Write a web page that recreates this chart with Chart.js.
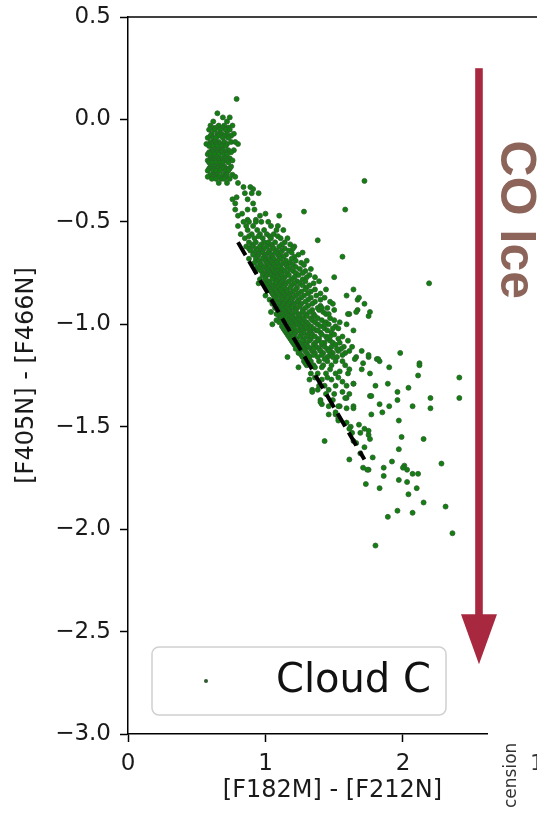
<!DOCTYPE html>
<html>
<head>
<meta charset="utf-8">
<script src="https://cdn.jsdelivr.net/npm/chart.js@4/dist/chart.umd.min.js"></script>
<style>
  html, body { margin: 0; padding: 0; background: #fff; }
  #wrap { width: 537px; height: 813px; }
</style>
</head>
<body>
<div id="wrap"><canvas id="cmd" width="537" height="813"></canvas></div>
<script>
// axis ticks
const xTicks = [0, 1, 2];
const yTicks = [-3.0, -2.5, -2.0, -1.5, -1.0, -0.5, 0.0, 0.5];

// reddening line (dashed)
const fitX = [0.80, 1.72];
const fitY = [-0.60, -1.66];

// Cloud C stars: [y, [x, x, ...]] rows
const clumpRows = [
  [0.10, [0.79]],
  [0.03, [0.65]],
  [0.01, [0.69, 0.74]],
  [-0.01, [0.62, 0.72]],
  [-0.03, [0.60, 0.66, 0.70, 0.76]],
  [-0.04, [0.61, 0.64, 0.69, 0.73]],
  [-0.05, [0.59, 0.63, 0.67, 0.71, 0.74]],
  [-0.07, [0.61, 0.65, 0.68, 0.72, 0.77]],
  [-0.08, [0.60, 0.66, 0.70, 0.75]],
  [-0.09, [0.58, 0.62, 0.64, 0.69, 0.73]],
  [-0.11, [0.60, 0.63, 0.66, 0.70, 0.75, 0.78]],
  [-0.12, [0.57, 0.61, 0.64, 0.67, 0.72, 0.80]],
  [-0.13, [0.59, 0.62, 0.65, 0.68, 0.71]],
  [-0.15, [0.61, 0.64, 0.67, 0.69, 0.73, 0.77]],
  [-0.16, [0.59, 0.62, 0.65, 0.68, 0.71, 0.75]],
  [-0.17, [0.58, 0.60, 0.63, 0.66, 0.70, 0.72]],
  [-0.19, [0.60, 0.62, 0.65, 0.68, 0.71, 0.74]],
  [-0.20, [0.58, 0.61, 0.63, 0.66, 0.69, 0.72, 0.76]],
  [-0.21, [0.59, 0.61, 0.64, 0.67, 0.69, 0.73]],
  [-0.23, [0.60, 0.63, 0.66, 0.68, 0.70, 0.75]],
  [-0.24, [0.59, 0.62, 0.65, 0.69, 0.72, 0.74]],
  [-0.25, [0.58, 0.62, 0.64, 0.67, 0.71, 0.73]],
  [-0.27, [0.60, 0.63, 0.65, 0.69, 0.72, 0.76]],
  [-0.28, [0.58, 0.62, 0.66, 0.71, 0.78]],
  [-0.29, [0.61, 0.64, 0.68, 0.70, 0.74]],
  [-0.31, [0.66, 0.72, 0.80]]
];

const transitionRows = [
  [-0.33, [0.84, 0.89]],
  [-0.34, [0.91]],
  [-0.36, [0.85, 0.90, 0.95]],
  [-0.38, [0.79]],
  [-0.39, [0.76, 0.87]],
  [-0.41, [0.78, 0.91]],
  [-0.44, [0.78, 0.87, 0.92]],
  [-0.46, [0.83, 1.00]],
  [-0.47, [0.80, 0.96, 1.10]],
  [-0.49, [0.87, 0.93]]
];

const bandRows = [
  [-0.50, [0.84, 0.88, 0.93, 0.97, 1.02]],
  [-0.52, [0.80, 0.86, 0.91, 1.04, 1.09]],
  [-0.54, [0.87, 0.94, 0.99, 1.08, 1.13]],
  [-0.56, [0.82, 0.90, 0.96, 1.01, 1.06]],
  [-0.57, [0.88, 0.95, 1.03, 1.09]],
  [-0.58, [0.85, 0.92, 0.98, 1.04, 1.11, 1.16]],
  [-0.60, [0.88, 0.93, 0.99, 1.02, 1.07, 1.14]],
  [-0.61, [0.91, 0.97, 1.04, 1.12, 1.18]],
  [-0.62, [0.86, 0.90, 0.96, 1.01, 1.05, 1.10, 1.21]],
  [-0.63, [0.88, 0.93, 0.99, 1.06, 1.14, 1.20]],
  [-0.64, [0.89, 0.94, 0.97, 1.03, 1.08, 1.12, 1.17]],
  [-0.65, [0.92, 0.98, 1.02, 1.07, 1.11, 1.19, 1.27]],
  [-0.66, [0.91, 0.95, 1.00, 1.04, 1.09, 1.15, 1.24]],
  [-0.67, [0.94, 0.99, 1.05, 1.10, 1.13, 1.21]],
  [-0.68, [0.88, 0.93, 0.98, 1.02, 1.06, 1.11, 1.19]],
  [-0.69, [0.95, 1.00, 1.04, 1.09, 1.15, 1.22, 1.30]],
  [-0.70, [0.92, 0.96, 1.01, 1.05, 1.08, 1.13, 1.18, 1.26]],
  [-0.71, [0.97, 1.02, 1.06, 1.11, 1.15, 1.20, 1.28]],
  [-0.72, [0.94, 0.99, 1.03, 1.07, 1.10, 1.16, 1.22]],
  [-0.73, [0.96, 1.01, 1.05, 1.12, 1.18, 1.25, 1.33]],
  [-0.74, [0.93, 0.97, 1.02, 1.06, 1.09, 1.14, 1.20, 1.29]],
  [-0.75, [0.99, 1.03, 1.07, 1.11, 1.16, 1.22, 1.27]],
  [-0.76, [0.98, 1.01, 1.04, 1.08, 1.12, 1.17, 1.24, 1.32]],
  [-0.77, [1.00, 1.06, 1.09, 1.14, 1.21, 1.30, 1.36]],
  [-0.78, [0.96, 1.00, 1.05, 1.10, 1.13, 1.19, 1.27]],
  [-0.79, [1.02, 1.08, 1.12, 1.17, 1.23, 1.29, 1.39]],
  [-0.80, [0.95, 0.99, 1.03, 1.07, 1.11, 1.15, 1.21, 1.25, 1.35]],
  [-0.81, [1.01, 1.05, 1.10, 1.14, 1.19, 1.27, 1.32]],
  [-0.82, [1.02, 1.06, 1.09, 1.13, 1.18, 1.23, 1.30]],
  [-0.83, [1.03, 1.07, 1.11, 1.15, 1.22, 1.29, 1.36, 1.44]],
  [-0.84, [1.04, 1.08, 1.12, 1.16, 1.20, 1.26, 1.33]],
  [-0.85, [1.05, 1.09, 1.13, 1.18, 1.24, 1.31, 1.40]],
  [-0.86, [1.00, 1.06, 1.10, 1.14, 1.17, 1.22, 1.28, 1.37]],
  [-0.87, [1.07, 1.12, 1.16, 1.20, 1.26, 1.33, 1.43]],
  [-0.88, [1.03, 1.08, 1.12, 1.15, 1.19, 1.24, 1.31, 1.40]],
  [-0.89, [1.06, 1.10, 1.14, 1.18, 1.23, 1.29, 1.36, 1.47]],
  [-0.90, [1.05, 1.10, 1.13, 1.17, 1.21, 1.26, 1.34]],
  [-0.91, [1.08, 1.12, 1.16, 1.20, 1.25, 1.31, 1.40]],
  [-0.92, [1.07, 1.11, 1.15, 1.19, 1.23, 1.29, 1.38, 1.45]],
  [-0.93, [1.10, 1.13, 1.17, 1.22, 1.27, 1.34, 1.39, 1.50]],
  [-0.94, [1.04, 1.09, 1.14, 1.18, 1.22, 1.27, 1.32, 1.42]],
  [-0.95, [1.08, 1.12, 1.15, 1.19, 1.24, 1.29, 1.35, 1.44]],
  [-0.96, [1.10, 1.13, 1.16, 1.20, 1.25, 1.30, 1.36]],
  [-0.97, [1.11, 1.15, 1.19, 1.23, 1.27, 1.33, 1.38, 1.47]],
  [-0.98, [1.08, 1.12, 1.17, 1.21, 1.24, 1.28, 1.34, 1.41, 1.50]],
  [-0.99, [1.10, 1.14, 1.18, 1.22, 1.26, 1.30, 1.36, 1.44]],
  [-1.00, [1.05, 1.14, 1.19, 1.23, 1.27, 1.31, 1.38, 1.46]],
  [-1.01, [1.12, 1.17, 1.20, 1.25, 1.29, 1.33, 1.40, 1.51]],
  [-1.02, [1.13, 1.16, 1.21, 1.26, 1.30, 1.35, 1.43, 1.53]],
  [-1.03, [1.14, 1.19, 1.24, 1.27, 1.32, 1.37, 1.45]],
  [-1.04, [1.15, 1.18, 1.22, 1.28, 1.33, 1.40, 1.48]],
  [-1.05, [1.16, 1.21, 1.26, 1.31, 1.34, 1.41, 1.50]],
  [-1.06, [1.17, 1.20, 1.25, 1.30, 1.36, 1.44, 1.56]],
  [-1.07, [1.18, 1.22, 1.28, 1.33, 1.39, 1.45, 1.53]],
  [-1.08, [1.19, 1.23, 1.27, 1.32, 1.38, 1.47, 1.60]],
  [-1.09, [1.20, 1.24, 1.30, 1.36, 1.43, 1.49]],
  [-1.10, [1.21, 1.26, 1.29, 1.35, 1.41, 1.51]],
  [-1.11, [1.23, 1.27, 1.31, 1.37, 1.43, 1.48, 1.57]],
  [-1.12, [1.22, 1.28, 1.33, 1.39, 1.45, 1.55]],
  [-1.13, [1.25, 1.29, 1.34, 1.40, 1.47, 1.53]],
  [-1.14, [1.24, 1.30, 1.36, 1.42, 1.49, 1.58]],
  [-1.15, [1.26, 1.31, 1.35, 1.41, 1.47, 1.56]],
  [-1.16, [1.27, 1.32, 1.45, 1.52]],
  [-1.18, [1.28, 1.33, 1.39, 1.45, 1.51]],
  [-1.20, [1.30, 1.35, 1.42, 1.48, 1.58]],
  [-1.24, [1.33, 1.38, 1.44, 1.51, 1.60]],
  [-1.26, [1.36, 1.45, 1.53]],
  [-1.30, [1.39, 1.43, 1.51, 1.59]],
  [-1.34, [1.44, 1.50]],
  [-1.44, [1.46, 1.51]],
  [-1.46, [1.53]],
  [-1.48, [1.59]],
  [-1.50, [1.62]],
  [-1.53, [1.63]],
  [-1.58, [1.66]],
  [-1.60, [1.72]],
  [-1.63, [1.69]]
];

// lower part of the band, [x, y]
const bandLowerPoints = [
  [1.67, -0.88], [1.61, -0.95], [1.67, -0.93], [1.41, -0.92], [1.49, -0.90], [1.46, -0.95],
  [1.54, -0.99], [1.59, -1.00], [1.49, -1.02], [1.43, -1.00], [1.38, -1.03], [1.47, -1.06],
  [1.54, -1.09], [1.52, -1.12], [1.61, -1.13], [1.46, -1.13], [1.41, -1.09], [1.35, -1.12],
  [1.38, -1.16], [1.43, -1.17], [1.49, -1.16], [1.56, -1.18], [1.70, -1.22], [1.61, -1.22],
  [1.54, -1.23], [1.47, -1.22], [1.41, -1.21], [1.36, -1.21], [1.29, -1.19], [1.24, -1.21],
  [1.32, -1.27], [1.41, -1.27], [1.48, -1.27], [1.56, -1.28], [1.64, -1.29], [1.38, -1.32],
  [1.46, -1.32], [1.56, -1.33], [1.61, -1.34], [1.34, -1.32], [1.40, -1.37], [1.49, -1.37],
  [1.59, -1.36], [1.64, -1.40], [1.54, -1.40], [1.46, -1.40], [1.41, -1.39]
];

// scattered stars right of the band, [x, y]
const tailPoints = [
  [1.72, -0.30], [1.28, -0.45], [1.58, -0.44], [1.38, -0.59], [1.56, -0.67], [1.50, -0.77],
  [2.19, -0.80], [1.64, -0.83], [1.59, -0.86], [1.68, -0.87], [1.72, -0.90], [1.76, -0.94],
  [1.75, -0.96], [1.66, -0.94], [1.60, -0.95], [1.64, -1.03], [1.98, -1.14], [2.12, -1.19],
  [1.70, -1.13], [1.66, -1.16], [1.75, -1.16], [1.81, -1.17], [1.83, -1.18], [1.90, -1.21],
  [1.71, -1.19], [1.63, -1.11], [2.11, -1.25], [2.41, -1.26], [2.41, -1.36], [2.20, -1.36],
  [2.20, -1.41], [2.07, -1.40], [1.97, -1.47], [1.99, -1.55], [2.15, -1.56], [1.97, -1.61],
  [1.92, -1.67], [1.86, -1.70], [1.86, -1.74], [2.01, -1.69], [2.03, -1.71], [2.07, -1.73],
  [2.11, -1.73], [2.28, -1.68], [1.97, -1.76], [2.03, -1.77], [2.10, -1.80], [2.04, -1.83],
  [2.15, -1.87], [2.31, -1.89], [2.07, -1.92], [1.96, -1.91], [1.89, -1.94], [2.36, -2.02],
  [1.80, -2.08], [1.83, -1.80], [1.73, -1.78], [1.75, -1.71], [1.61, -1.66], [1.43, -1.57],
  [1.78, -1.65], [1.85, -1.43], [1.77, -1.44], [1.76, -1.35], [1.83, -1.39], [1.90, -1.40],
  [1.96, -1.37], [1.96, -1.33], [1.89, -1.29], [1.80, -1.30], [1.76, -1.24], [1.65, -1.17],
  [1.75, -1.15], [1.64, -1.29], [1.58, -1.36], [1.64, -1.41], [1.69, -1.53], [1.75, -1.54],
  [1.76, -1.56], [1.74, -1.71], [1.71, -1.70], [1.16, -1.16], [1.61, -1.51], [1.64, -1.57],
  [1.53, -1.47], [1.51, -1.43], [1.34, -1.33], [1.40, -1.38], [1.53, -1.40], [1.59, -1.41],
  [1.68, -1.49], [1.72, -1.51], [2.04, -1.31], [1.77, -1.35], [1.75, -1.52], [2.00, -1.70],
  [2.12, -1.20], [1.82, -1.17]
];

const legendLabel = 'Cloud C';

const cloudPoints = [];
for (const [y, xs] of [...clumpRows, ...transitionRows, ...bandRows]) {
  for (const x of xs) cloudPoints.push({ x, y });
}
for (const [x, y] of [...bandLowerPoints, ...tailPoints]) cloudPoints.push({ x, y });

const fitLine = fitX.map((x, i) => ({ x, y: fitY[i] }));

const fmt = v => (v < 0 ? '\u2212' : '') + Math.abs(v).toFixed(1);

// extras: top spine, legend box, the CO ice arrow and the clipped neighbour panel
const extras = {
  id: 'extras',
  afterDraw(chart) {
    const { ctx, chartArea: a, scales: { x, y } } = chart;
    ctx.save();

    // top spine
    ctx.strokeStyle = '#000';
    ctx.lineWidth = 1.5;
    ctx.beginPath();
    ctx.moveTo(a.left - 0.75, a.top);
    ctx.lineTo(chart.width, a.top);
    ctx.stroke();

    // neighbour panel covers the end of the x axis
    ctx.fillStyle = '#fff';
    ctx.fillRect(488, 726, 49, 87);
    ctx.fillStyle = '#333';
    ctx.font = '17px "DejaVu Sans"';
    ctx.save();
    ctx.translate(516, 808);
    ctx.rotate(-Math.PI / 2);
    ctx.textAlign = 'left';
    ctx.textBaseline = 'alphabetic';
    ctx.fillText('cension', 0, 0);
    ctx.restore();
    ctx.font = '22px "DejaVu Sans"';
    ctx.textAlign = 'left';
    ctx.fillText('1', 530, 770);

    // legend
    ctx.beginPath();
    ctx.roundRect(152, 647, 294, 68, 7);
    ctx.fillStyle = 'rgba(255,255,255,0.8)';
    ctx.fill();
    ctx.strokeStyle = '#d0d0d0';
    ctx.lineWidth = 1.5;
    ctx.stroke();
    ctx.beginPath();
    ctx.arc(206, 681, 2, 0, Math.PI * 2);
    ctx.fillStyle = '#2f5a2f';
    ctx.fill();
    ctx.fillStyle = '#111';
    ctx.font = '40px "DejaVu Sans"';
    ctx.textAlign = 'left';
    ctx.textBaseline = 'alphabetic';
    ctx.fillText(legendLabel, 276, 692);

    // arrow
    const ax = x.getPixelForValue(2.553);
    const top = y.getPixelForValue(0.25);
    const tip = y.getPixelForValue(-2.66);
    const headLen = 50, headHalf = 18;
    ctx.fillStyle = '#a8283f';
    ctx.fillRect(ax - 3.8, top, 7.6, tip - headLen - top + 2);
    ctx.beginPath();
    ctx.moveTo(ax - headHalf, tip - headLen);
    ctx.lineTo(ax + headHalf, tip - headLen);
    ctx.lineTo(ax, tip);
    ctx.closePath();
    ctx.fill();

    // CO Ice label
    ctx.save();
    ctx.translate(x.getPixelForValue(2.71), y.getPixelForValue(-0.49));
    ctx.rotate(Math.PI / 2);
    ctx.fillStyle = '#8d6459';
    ctx.font = 'bold 50px "Liberation Sans"';
    ctx.textAlign = 'center';
    ctx.textBaseline = 'alphabetic';
    ctx.fillText('CO Ice', 0, 0);
    ctx.restore();

    ctx.restore();
  }
};

new Chart(document.getElementById('cmd'), {
  type: 'scatter',
  data: {
    datasets: [
      {
        label: legendLabel,
        data: cloudPoints,
        backgroundColor: '#118011',
        borderColor: '#2e5e2e',
        borderWidth: 0.8,
        pointRadius: 2.5,
        order: 2
      },
      {
        label: 'fit',
        data: fitLine,
        showLine: true,
        borderColor: '#000',
        borderWidth: 4,
        borderDash: [15, 7],
        pointRadius: 0,
        order: 1
      }
    ]
  },
  options: {
    responsive: false,
    animation: false,
    events: [],
    layout: { autoPadding: false, padding: { left: 0, top: 17, right: 0, bottom: 0 } },
    plugins: { legend: { display: false }, tooltip: { enabled: false } },
    scales: {
      x: {
        type: 'linear',
        min: 0,
        max: 2.975,
        afterBuildTicks: s => { s.ticks = xTicks.map(v => ({ value: v })); },
        afterFit: s => { s.height = 79; s.paddingLeft = 0; s.paddingRight = 0; },
        ticks: {
          font: { family: 'DejaVu Sans', size: 23 },
          color: '#1a1a1a',
          padding: 8,
          maxRotation: 0,
          callback: v => String(v)
        },
        grid: { drawOnChartArea: false, drawTicks: true, tickLength: 8, tickWidth: 1.5, tickColor: '#000' },
        border: { display: true, color: '#000', width: 1.5 },
        title: {
          display: true,
          text: '[F182M] - [F212N]',
          font: { family: 'DejaVu Sans', size: 24 },
          color: '#1a1a1a',
          padding: { top: 0, bottom: 8 }
        }
      },
      y: {
        type: 'linear',
        min: -3,
        max: 0.5,
        afterBuildTicks: s => { s.ticks = yTicks.map(v => ({ value: v })); },
        afterFit: s => { s.width = 128; s.paddingTop = 0; s.paddingBottom = 0; },
        ticks: {
          font: { family: 'DejaVu Sans', size: 23 },
          color: '#1a1a1a',
          padding: 9,
          callback: v => fmt(v)
        },
        grid: { drawOnChartArea: false, drawTicks: true, tickLength: 8, tickWidth: 1.5, tickColor: '#000' },
        border: { display: true, color: '#000', width: 1.5 },
        title: {
          display: true,
          text: '[F405N] - [F466N]',
          font: { family: 'DejaVu Sans', size: 24 },
          color: '#1a1a1a',
          padding: { top: 12, bottom: 0 }
        }
      }
    }
  },
  plugins: [extras]
});
</script>
</body>
</html>
